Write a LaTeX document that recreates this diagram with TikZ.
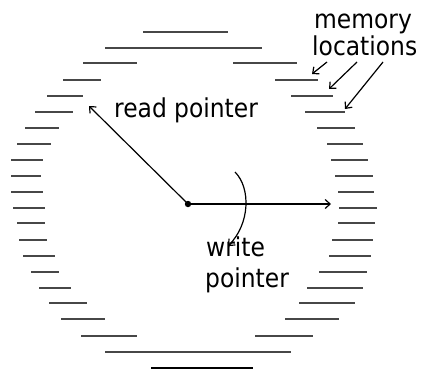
\documentclass[tikz,border=0pt]{standalone}
\usepackage{fontspec}
\newfontfamily\labelfont{DejaVu Sans Condensed}
\usetikzlibrary{arrows.meta}
\begin{document}
\begin{tikzpicture}[x=1pt,y=-1pt,
  memline/.style={draw=black!72, line width=2.4pt},
  bottomline/.style={draw=black, line width=2.6pt},
  pointer/.style={draw=black, line width=1.2pt, -{Straight Barb[length=5pt,width=9pt]}},
  lbl/.style={inner sep=0pt, anchor=base west, font=\labelfont\fontsize{26}{30}\selectfont, text=black}]
\useasboundingbox (0,0) rectangle (427,373);
% memory location lines
\foreach \y/\a/\b in {32/143/228, 48/105/262, 352/105/291}
  \draw[memline] (\a,\y) -- (\b,\y);
\foreach \y/\a/\b/\c/\d in {63/83/137/233/297, 80/63/101/275/318, 96/47/83/291/333,
  112/35/73/305/345, 128/25/59/317/355, 144/17/51/327/363, 160/11/43/331/368,
  176/11/41/335/373, 192/11/43/338/374, 208/13/45/339/377, 223/17/45/338/375,
  240/19/47/332/373, 256/23/55/329/371, 272/31/59/319/367, 288/39/71/307/363,
  303/49/87/299/355, 319/61/105/285/339, 336/81/137/255/313}
  {\draw[memline] (\a,\y) -- (\b,\y);
   \draw[memline] (\c,\y) -- (\d,\y);}
\draw[bottomline] (151,368) -- (253,368);
% labels
\node[lbl] (mem) at (314,28) {memory};
\node[lbl] (loc) at (312,55) {locations};
\node[lbl] (read) at (114,117) {read pointer};
\node[lbl] (write) at (206,256) {write};
\node[lbl] (wptr) at (205,287) {pointer};
% center
\fill (188,204) circle (3.2pt);
\coordinate (c) at (188,204);
\coordinate (rtip) at (89,106);
\coordinate (wtip) at (331,204);
\draw[pointer] (c) -- (rtip);
\draw[pointer] (c) -- (wtip);
% rotation arrow
\coordinate (arcs) at (235,172);
\coordinate (arce) at (228,246);
\draw[pointer] (arcs) .. controls (251,188) and (250,224) .. (arce);
% memory location arrows
\coordinate (m1s) at (327,62); \coordinate (m1e) at (312,74);
\coordinate (m2s) at (357,62); \coordinate (m2e) at (329,89);
\coordinate (m3s) at (383,62); \coordinate (m3e) at (345,109);
\draw[pointer] (m1s) -- (m1e);
\draw[pointer] (m2s) -- (m2e);
\draw[pointer] (m3s) -- (m3e);
\end{tikzpicture}
\end{document}
